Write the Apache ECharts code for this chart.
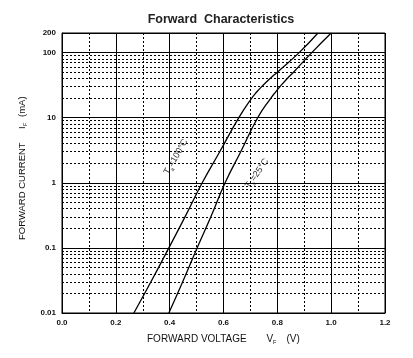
<!DOCTYPE html>
<html><head><meta charset="utf-8">
<script src="https://cdn.jsdelivr.net/npm/echarts@6/dist/echarts.min.js"></script>
<style>html,body{margin:0;padding:0;background:#fff}#c{width:413px;height:358px}</style>
</head><body><div id="c"></div>
<script>
// Data
const xTickStep = 0.2;
const yTickLabels = ['0.01', '0.1', '1', '10', '100', '200'];
const if100 = [0.01, 0.03, 0.1, 0.3, 1, 3, 10, 20, 25, 30, 40, 50, 100, 200];
const vf100 = [0.267, 0.330, 0.397, 0.457, 0.521, 0.586, 0.657, 0.705, 0.724, 0.742, 0.773, 0.800, 0.881, 0.951];
const if25 = [0.01, 0.03, 0.1, 0.3, 1, 3, 10, 20, 25, 30, 40, 50, 100, 200];
const vf25 = [0.397, 0.448, 0.502, 0.553, 0.606, 0.664, 0.727, 0.776, 0.794, 0.810, 0.837, 0.860, 0.928, 1.0];
const minorDecades = [0.01, 0.1, 1, 10];
const minorSteps = [2, 3, 4, 5, 6, 7, 8, 9];

const FONT = 'Liberation Sans, Arial, sans-serif';
const LABEL_COLOR = '#333';
const pairs = (xs, ys) => xs.map((x, i) => [x, ys[i]]);
const dotted = [];
minorDecades.forEach(d => minorSteps.forEach(s => dotted.push({ yAxis: +(d * s).toPrecision(3) })));

const chart = echarts.init(document.getElementById('c'), null, { renderer: 'canvas' });

function txt(x, y, text, size, extra) {
  return { type: 'text', x: x, y: y, style: Object.assign({ text: text, fontSize: size, fontFamily: FONT, fill: '#111', align: 'left', verticalAlign: 'middle' }, extra || {}) };
}
function curveLabel(x, y, deg, rest) {
  return {
    type: 'group', x: x, y: y, rotation: deg * Math.PI / 180,
    children: [
      { type: 'text', x: 0, y: 0, style: { text: 'T', fontSize: 9, fontFamily: FONT, fill: LABEL_COLOR, verticalAlign: 'bottom' } },
      { type: 'text', x: 5.3, y: 2.2, style: { text: 'a', fontSize: 5.5, fontFamily: FONT, fill: LABEL_COLOR, verticalAlign: 'bottom' } },
      { type: 'text', x: 8.6, y: 0, style: { text: rest, fontSize: 9, fontFamily: FONT, fill: LABEL_COLOR, verticalAlign: 'bottom' } }
    ]
  };
}

chart.setOption({
  animation: false,
  backgroundColor: '#fff',
  grid: { left: 62, right: 28, top: 33, bottom: 45, show: true, borderColor: '#000', borderWidth: 1, backgroundColor: 'transparent' },
  xAxis: {
    type: 'value', min: 0, max: 1.2, interval: xTickStep,
    axisLine: { show: true, lineStyle: { color: '#000', width: 1 } },
    axisTick: { show: false },
    axisLabel: { color: '#111', fontSize: 8, fontWeight: 'bold', fontFamily: FONT, margin: 6, formatter: v => v.toFixed(1) },
    splitLine: { show: true, lineStyle: { color: '#000', width: 1 } },
    minorTick: { show: false, splitNumber: 2 },
    minorSplitLine: { show: true, lineStyle: { color: '#000', width: 1, type: [2, 2] } }
  },
  yAxis: {
    type: 'log', logBase: 10, min: 0.01, max: 200,
    axisLine: { show: true, lineStyle: { color: '#000', width: 1 } },
    axisTick: { show: false },
    axisLabel: { color: '#111', fontSize: 8, fontWeight: 'bold', fontFamily: FONT, margin: 6, showMaxLabel: true, showMinLabel: true,
      formatter: v => { const s = String(+(+v).toPrecision(3)); return yTickLabels.indexOf(s) >= 0 ? s : ''; } },
    splitLine: { show: true, lineStyle: { color: '#000', width: 1 } }
  },
  series: [
    {
      type: 'line', name: 'Ta=100C', data: pairs(vf100, if100), smooth: 0.5, showSymbol: false, symbol: 'none',
      lineStyle: { color: '#000', width: 1.3 }, z: 5,
      markLine: { silent: true, symbol: ['none', 'none'], label: { show: false }, animation: false,
        lineStyle: { color: '#000', width: 1, type: [2, 2] }, data: dotted }
    },
    {
      type: 'line', name: 'Ta=25C', data: pairs(vf25, if25), smooth: 0.5, showSymbol: false, symbol: 'none',
      lineStyle: { color: '#000', width: 1.3 }, z: 5
    }
  ],
  graphic: [
    txt(221, 20, 'Forward  Characteristics', 12.5, { align: 'center', fontWeight: 'bold', fill: '#222' }),
    txt(147, 339.5, 'FORWARD VOLTAGE', 10),
    txt(266.5, 339.5, 'V', 10),
    txt(273, 342.5, 'F', 5.5),
    txt(286.5, 339.5, '(V)', 10),
    {
      type: 'group', x: 22, y: 240, rotation: Math.PI / 2,
      children: [
        txt(0, 0, 'FORWARD CURRENT', 9.5),
        txt(111, 0, 'I', 9.5),
        txt(114, 3, 'F', 5.5),
        txt(123, 0, '(mA)', 9.5)
      ]
    },
    curveLabel(170, 176, 60, '=100°C'),
    curveLabel(251, 190, 55, '=25°C')
  ]
});
</script></body></html>
